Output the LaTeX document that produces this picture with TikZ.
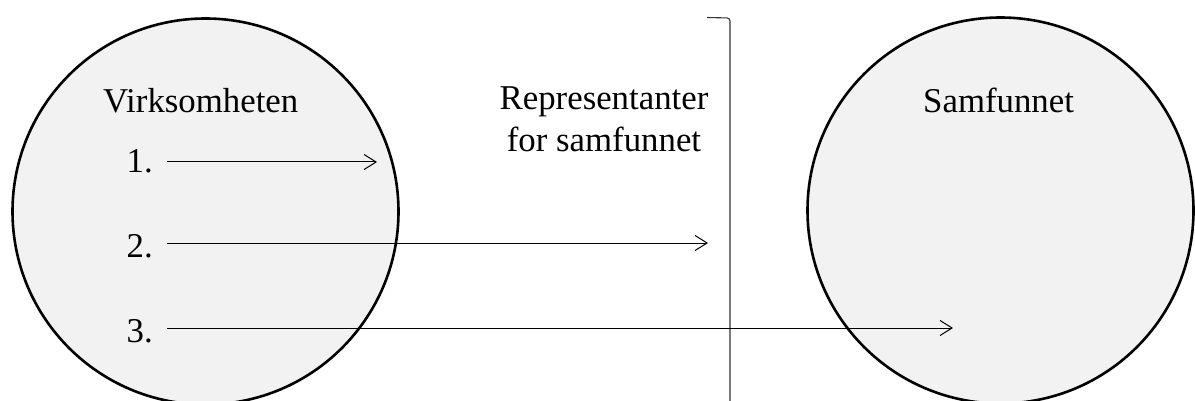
\documentclass[tikz,border=0pt]{standalone}
\usepackage{fontspec}
\setmainfont{Liberation Serif}
\usetikzlibrary{arrows.meta}
\definecolor{discfill}{HTML}{F2F2F2}
\begin{document}
\begin{tikzpicture}[x=1pt,y=-1pt,
  disc/.style={circle,draw=black,line width=2.6pt,fill=discfill,
               minimum size=386pt,inner sep=0pt},
  lbl/.style={font=\fontsize{34.8}{42}\selectfont,inner sep=0pt},
  flow/.style={line width=1pt,-{Straight Barb[length=12pt,width=15pt,line width=1pt]}},
  divider/.style={line width=1.1pt,draw=black!80,rounded corners=3pt}]
  \useasboundingbox (0,0) rectangle (1195,401);

  % the two parties
  \node[disc] (firm) at (205.5,211.5) {};
  \node[disc] (society) at (1000.5,210.5) {};

  % titles
  \node[lbl,anchor=base west] (firmtitle) at (103,113) {Virksomheten};
  \node[lbl,anchor=base west] (soctitle) at (923,113) {Samfunnet};
  \node[lbl,anchor=base,align=center] (reps) at (604,152)
    {Representanter\\for samfunnet};

  % numbered levels
  \node[lbl,anchor=base east] (n1) at (153,173) {1.};
  \node[lbl,anchor=base east] (n2) at (153,257) {2.};
  \node[lbl,anchor=base east] (n3) at (153,342) {3.};

  % divider bracket
  \coordinate (dtop) at (707,17.5);
  \coordinate (dcorner) at (730,18);
  \coordinate (dbot) at (730,401);
  \draw[divider] (dtop) -- (dcorner) -- (dbot);

  % flows
  \coordinate (s1) at (167,162); \coordinate (e1) at (377,162);
  \coordinate (s2) at (167,243); \coordinate (e2) at (708,243);
  \coordinate (s3) at (167,328); \coordinate (e3) at (953,328);
  \draw[flow] (s1) -- (e1);
  \draw[flow] (s2) -- (e2);
  \draw[flow] (s3) -- (e3);
\end{tikzpicture}
\end{document}
